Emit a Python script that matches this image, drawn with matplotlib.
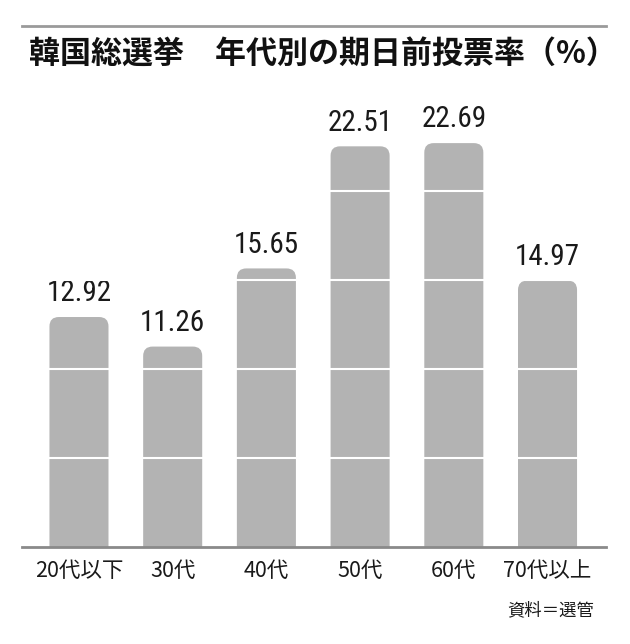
import matplotlib.pyplot as plt
from matplotlib.patches import FancyBboxPatch
from matplotlib.lines import Line2D
from matplotlib import font_manager

plt.rcParams['font.family'] = ['Noto Sans CJK JP', 'DejaVu Sans']

categories = ['20代以下', '30代', '40代', '50代', '60代', '70代以上']
values = [12.92, 11.26, 15.65, 22.51, 22.69, 14.97]
value_labels = ['12.92', '11.26', '15.65', '22.51', '22.69', '14.97']
title = '韓国総選挙　年代別の期日前投票率（%）'
source = '資料＝選管'

# pick a condensed face for the numbers if one is installed
names = {f.name for f in font_manager.fontManager.ttflist}
num_family = 'DejaVu Sans'
for cand in ['Liberation Sans Narrow', 'Roboto Condensed', 'DejaVu Sans Condensed',
             'Open Sans Condensed', 'Noto Sans Condensed']:
    if cand in names:
        num_family = cand
        break

bar_color = '#b3b3b3'
W, H = 630, 644
fig = plt.figure(figsize=(W / 100, H / 100), dpi=100)

# axes placed in pixel terms: baseline at y=547, spans x 22..606
ax = fig.add_axes([22 / W, (H - 547) / H, (606 - 22) / W, 445 / H])
ax.set_xlim(-0.608, 5.624)
ax.set_ylim(0, 25)

bw = 0.63
# y-units per x-unit in pixels, so the corner radius stays round
aspect = (584 / 6.232) / (445 / 25)
for i, v in enumerate(values):
    box = FancyBboxPatch((i - bw / 2, -2), bw, v + 2,
                         boxstyle='round,pad=0,rounding_size=0.1',
                         mutation_aspect=aspect,
                         facecolor=bar_color, edgecolor='none', zorder=2)
    ax.add_patch(box)
    ax.annotate(value_labels[i], (i, v), xytext=(0, 7), textcoords='offset points',
                ha='center', va='bottom', fontsize=21, family=num_family,
                fontstretch='condensed', color='#1a1a1a')

# white grid lines cutting through bars
for g in [5, 10, 15, 20]:
    ax.axhline(g, color='white', lw=1.5, zorder=3)

ax.set_xticks(range(len(categories)))
ax.set_xticklabels(categories, fontsize=15.5, color='#1a1a1a')
ax.tick_params(axis='x', length=0, pad=9)
ax.set_yticks([])
for s in ['top', 'left', 'right']:
    ax.spines[s].set_visible(False)
ax.spines['bottom'].set_color('#8a8a8a')
ax.spines['bottom'].set_linewidth(2)
ax.spines['bottom'].set_zorder(4)

fig.add_artist(Line2D([22 / W, 606 / W], [1 - 26 / H, 1 - 26 / H],
                      color='#9a9a9a', lw=2))
fig.text(29 / W, 1 - 55 / H, title, fontsize=22.3, fontweight='bold',
         ha='left', va='center', color='#111111')
fig.text(594 / W, 1 - 610 / H, source, fontsize=12.5, ha='right', va='center',
         color='#1a1a1a')

fig.savefig('out.png', dpi=100)
